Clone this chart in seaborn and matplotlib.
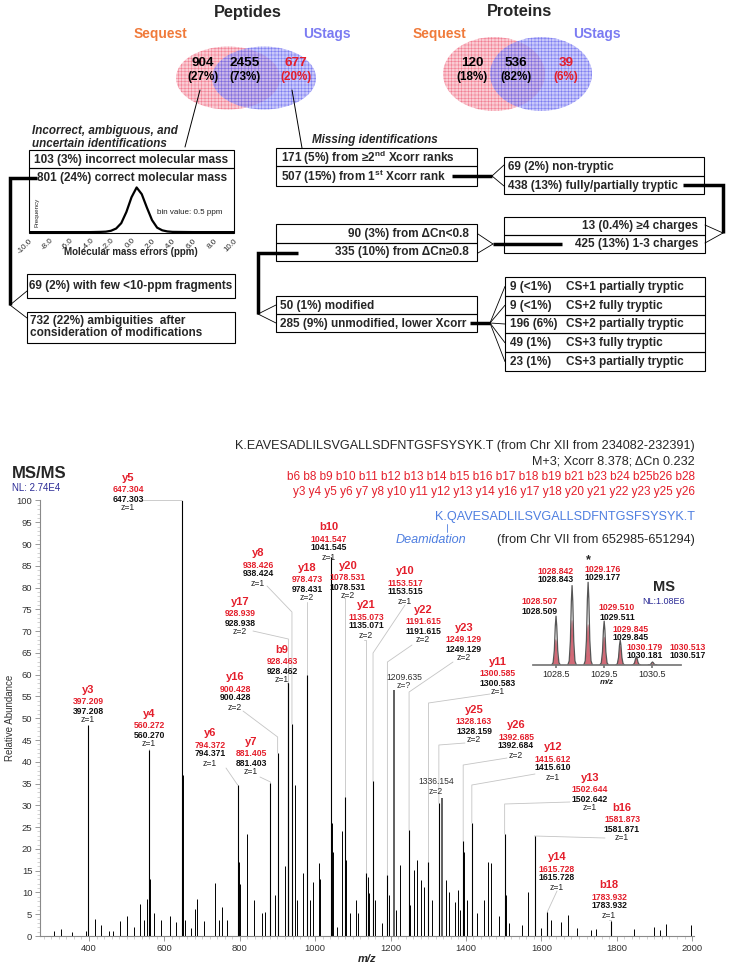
import matplotlib.pyplot as plt
import seaborn as sns
from matplotlib.patches import Ellipse, Rectangle
from matplotlib.ticker import MultipleLocator

sns.set_theme(style='white')
plt.rcParams['font.family'] = ['Liberation Sans', 'DejaVu Sans']
plt.rcParams['mathtext.fontset'] = 'custom'
plt.rcParams['mathtext.rm'] = 'Liberation Sans'
plt.rcParams['mathtext.bf'] = 'Liberation Sans:bold'
plt.rcParams['hatch.linewidth'] = 0.4

# ---------------- data ----------------
venn_titles = ['Peptides', 'Proteins']
only_sequest = ['904', '120']
both = ['2455', '536']
only_ustags = ['677', '39']
pct_sequest = ['(27%)', '(18%)']
pct_both = ['(73%)', '(82%)']
pct_ustags = ['(20%)', '(6%)']

hist_ppm = [-10, -8, -6, -4, -3, -2.5, -2, -1.5, -1, -0.5, 0, 0.5, 1, 1.5, 2, 2.5, 3, 3.5, 4, 6, 8, 10]
hist_freq = [0, 0, 0, 0, 0.005, 0.01, 0.03, 0.08, 0.2, 0.45, 0.78, 1.0, 0.85, 0.55, 0.27, 0.1, 0.04, 0.015, 0.005, 0, 0, 0]
hist_ticks = [-10, -8, -6, -4, -2, 0, 2, 4, 6, 8, 10]

cs_counts = ['9 (<1%)', '9 (<1%)', '196 (6%)', '49 (1%)', '23 (1%)']
cs_labels = ['CS+1 partially tryptic', 'CS+2 fully tryptic', 'CS+2 partially tryptic',
             'CS+3 fully tryptic', 'CS+3 partially tryptic']

ion_names = ['y3', 'y4', 'y5', 'y6', 'y7', 'y16', 'b9', 'y17', 'y8', 'y18', 'b10', 'y20',
             'y21', 'y10', 'y22', 'y23', 'y11', 'y25', 'y26', 'y12', 'y13', 'b16', 'y14', 'b18']
ion_theo = [397.209, 560.272, 647.304, 794.372, 881.405, 900.428, 928.463, 928.939, 938.426,
            978.473, 1041.547, 1078.531, 1135.073, 1153.517, 1191.615, 1249.129, 1300.585,
            1328.163, 1392.685, 1415.612, 1502.644, 1581.873, 1615.728, 1783.932]
ion_obs = [397.208, 560.270, 647.303, 794.371, 881.403, 900.428, 928.462, 928.938, 938.424,
           978.431, 1041.545, 1078.531, 1135.071, 1153.515, 1191.615, 1249.129, 1300.583,
           1328.159, 1392.684, 1415.610, 1502.642, 1581.871, 1615.728, 1783.932]
ion_charge = [1, 1, 1, 1, 1, 2, 1, 2, 1, 2, 1, 2, 2, 1, 2, 2, 1, 2, 2, 1, 1, 1, 1, 1]
ion_int = [48.5, 42.8, 100, 34.7, 35.2, 42.0, 58, 58, 48.7, 60, 87, 32, 14.4, 35.5, 14,
           24.3, 16.9, 30.5, 21.7, 26, 23.4, 23, 5.5, 3.5]

extra_mz = [1209.635, 1336.154]
extra_charge = ['?', '2']
extra_int = [56.5, 31.6]

other_mz = [306, 325, 355, 392, 415, 433, 452, 464, 482, 501, 519, 534, 545, 554, 561.3, 572,
            591, 614, 630, 648.3, 655, 670, 680, 686, 704, 735, 745, 754, 766, 795.4, 797, 800,
            818, 837, 858, 867, 893, 902, 920, 939.4, 947, 952, 969, 979, 986, 994, 1010, 1014,
            1044, 1046, 1058, 1072, 1082, 1092, 1107, 1113, 1139, 1144, 1160, 1177, 1197, 1214,
            1226, 1251, 1261, 1271, 1282, 1289, 1311, 1347, 1356, 1372, 1378, 1384, 1393.7,
            1403, 1417, 1430, 1448, 1459, 1467, 1488, 1505, 1515, 1549, 1564, 1583, 1598, 1626,
            1651, 1670, 1694, 1731, 1745, 1846, 1900, 1916, 1931, 1996]
other_int = [1.2, 1.5, 1.0, 1.1, 3.8, 2.5, 1.1, 1.1, 3.5, 4.6, 2.0, 7.4, 3.7, 8.5, 13, 5.2,
             3.7, 4.6, 3.3, 37, 3.7, 1.8, 6.1, 8.5, 3.5, 12.1, 3.7, 6.7, 3.7, 19.8, 17, 12,
             23.4, 8.3, 5.2, 5.6, 9.4, 9.4, 16, 25.5, 34.7, 8.3, 14.4, 12.1, 8.3, 12.5, 16.7, 13.2,
             26, 19.4, 2.1, 24.1, 17.5, 5.2, 8.3, 5.2, 13.6, 9.8, 8.3, 2.9, 9.4, 6,
             16.3, 7.1, 15.2, 17.5, 12.9, 11.3, 8.3, 12.9, 10.2, 7.9, 10.6, 6, 19.4,
             8.3, 19.8, 5.2, 8.3, 17.1, 16.7, 4.6, 9.4, 2.9, 2.5, 10.2, 4.8, 1.8, 3.7,
             3.3, 4.8, 1.8, 1.4, 1.5, 1.5, 2.1, 1.4, 2.7, 2.5]

iso_obs_mz = [1028.509, 1028.843, 1029.177, 1029.511, 1029.845, 1030.181, 1030.517]
iso_obs_int = [59, 96, 100, 53, 30, 10, 3.6]
iso_theo_mz = [1028.507, 1028.842, 1029.176, 1029.510, 1029.845, 1030.179, 1030.513]
iso_theo_int = [31, 54, 49, 34, 23, 8, 2]

# ---------------- layout helpers (pixels) ----------------
W, H = 731, 966
RED = '#e41e2b'
NAVY = '#2b2b96'
BLUE = '#4f7fe0'


def frac(x0, y0, x1, y1):
    return [x0 / W, 1 - y1 / H, (x1 - x0) / W, (y1 - y0) / H]


fig = plt.figure(figsize=(W / 100, H / 100), dpi=100)
bg = fig.add_axes([0, 0, 1, 1])
bg.set_xlim(0, W)
bg.set_ylim(H, 0)
bg.axis('off')

# ---------------- Venn diagrams ----------------
venn_geo = [dict(cx=248, lx=228, rx=264, cy=78, w=104, h=63, tx=(203, 245, 296), sq=160, us=327),
            dict(cx=520, lx=494, rx=541, cy=74, w=102, h=74, tx=(472, 516, 566), sq=439, us=597)]
for i, g in enumerate(venn_geo):
    bg.add_patch(Ellipse((g['lx'], g['cy']), g['w'], g['h'], facecolor=(0.97, 0.68, 0.72),
                         edgecolor=(0.93, 0.3, 0.42), hatch='+++++', lw=0, alpha=0.62))
    bg.add_patch(Ellipse((g['rx'], g['cy']), g['w'], g['h'], facecolor=(0.66, 0.66, 0.97),
                         edgecolor=(0.3, 0.3, 0.93), hatch='+++++', lw=0, alpha=0.62))
    bg.text(g['cx'], 12, venn_titles[i], fontsize=11.8, fontweight='bold', ha='center', va='center')
    bg.text(g['sq'], 34, 'Sequest', fontsize=9.9, fontweight='bold', color='#f07a3a', ha='center', va='center')
    bg.text(g['us'], 34, 'UStags', fontsize=9.9, fontweight='bold', color='#7b7bf2', ha='center', va='center')
    for x, num, pct, col in zip(g['tx'], [only_sequest[i], both[i], only_ustags[i]],
                                [pct_sequest[i], pct_both[i], pct_ustags[i]], ['black', 'black', RED]):
        bg.text(x, 63, num, fontsize=9.7, fontweight='bold', color=col, ha='center', va='center')
        bg.text(x, 77, pct, fontsize=8.4, fontweight='bold', color=col, ha='center', va='center')

bg.plot([200, 185], [90, 147], color='black', lw=0.7)
bg.plot([292, 302], [90, 148], color='black', lw=0.7)

# ---------------- flowchart ----------------
FS = 8.5


def row(x0, y0, x1, y1, text, tx, ha='left'):
    bg.add_patch(Rectangle((x0, y0), x1 - x0, y1 - y0, fill=False, ec='black', lw=0.8))
    if text:
        bg.text(tx, (y0 + y1) / 2 + 0.5, text, fontsize=FS, fontweight='bold', ha=ha, va='center')


def thick(xs, ys):
    bg.plot(xs, ys, color='black', lw=2.5, solid_capstyle='butt', solid_joinstyle='miter')


def fan(x, y, x2, ys):
    for yy in ys:
        bg.plot([x, x2], [y, yy], color='black', lw=0.6)


# left branch
bg.text(32, 131, 'Incorrect, ambiguous, and', fontsize=8.4, fontweight='bold', style='italic', va='center')
bg.text(32, 144, 'uncertain identifications', fontsize=8.4, fontweight='bold', style='italic', va='center')
row(29, 150, 234, 168, '103 (3%) incorrect molecular mass', 34)
row(29, 168, 234, 233, None, 0)
bg.text(37, 178, '801 (24%) correct molecular mass', fontsize=FS, fontweight='bold', va='center')
thick([37, 10, 10], [178, 178, 305])
fan(10, 305, 27, [291, 318])
row(27, 274, 235, 298, '69 (2%) with few <10-ppm fragments', 29)
row(27, 312, 235, 343, None, 0)
bg.text(30, 321, '732 (22%) ambiguities  after', fontsize=FS, fontweight='bold', va='center')
bg.text(30, 333, 'consideration of modifications', fontsize=FS, fontweight='bold', va='center')
bg.text(131, 252, 'Molecular mass errors (ppm)', fontsize=7, fontweight='bold', ha='center', va='center')
bg.text(190, 212, 'bin value: 0.5 ppm', fontsize=5.8, ha='center', va='center', color='#222')

# right branch
bg.text(312, 140, 'Missing identifications', fontsize=8.4, fontweight='bold', style='italic', va='center')
row(276, 148, 477, 166, r'171 (5%) from ≥2$^{\mathbf{nd}}$ Xcorr ranks', 281)
row(276, 166, 477, 186, r'507 (15%) from 1$^{\mathbf{st}}$ Xcorr rank', 281)
thick([452, 492], [176, 176])
fan(492, 176, 504, [165, 186])
row(504, 157, 704, 176, '69 (2%) non-tryptic', 508)
row(504, 176, 704, 194, '438 (13%) fully/partially tryptic', 508)
thick([683, 723, 723], [185, 185, 233])
fan(723, 233, 705, [225, 243])
row(504, 217, 705, 235, '13 (0.4%) ≥4 charges', 698, 'right')
row(504, 235, 705, 253, '425 (13%) 1-3 charges', 698, 'right')
thick([562, 493], [244, 244])
fan(493, 244, 478, [234, 253])
row(276, 224, 477, 243, '90 (3%) from ΔCn<0.8', 469, 'right')
row(276, 243, 477, 261, '335 (10%) from ΔCn≥0.8', 469, 'right')
thick([298, 258, 258], [253, 253, 314])
fan(258, 314, 276, [305, 323])
row(276, 296, 477, 314, '50 (1%) modified', 280)
row(276, 314, 477, 332, '285 (9%) unmodified, lower Xcorr', 280)
thick([470, 490], [323, 323])
rh = (371 - 277) / len(cs_counts)
fan(490, 323, 505, [277 + rh * (k + 0.5) for k in range(len(cs_counts))])
for k, (c, l) in enumerate(zip(cs_counts, cs_labels)):
    y0 = 277 + rh * k
    row(505, y0, 705, y0 + rh, c, 510)
    bg.text(566, y0 + rh / 2 + 0.5, l, fontsize=FS, fontweight='bold', va='center')

# histogram of mass errors
hx = fig.add_axes(frac(29, 183, 234, 233))
hx.patch.set_alpha(0)
sns.lineplot(x=hist_ppm, y=hist_freq, ax=hx, color='black', lw=1.6)
hx.set_xlim(-10, 10)
hx.set_ylim(-0.02, 1.1)
hx.set_xticks(hist_ticks)
hx.set_xticklabels([f'{t:.1f}' for t in hist_ticks], rotation=45, ha='right',
                   rotation_mode='anchor', fontsize=5.8)
hx.set_yticks([])
hx.tick_params(axis='x', length=0, pad=3)
for s in hx.spines.values():
    s.set_visible(False)
hx.set_xlabel('')
hx.set_ylabel('')
hx.text(-9.2, 0.45, 'Frequency', rotation=90, fontsize=4.5, va='center', ha='center')

# ---------------- MS/MS spectrum ----------------
SP_L, SP_R, SP_T, SP_B = 40, 694, 500.5, 936
XL, YL = (270, 2005), (0, 100)


def to_mz(px):
    return XL[0] + (px - SP_L) / (SP_R - SP_L) * (XL[1] - XL[0])


def to_int(py):
    return YL[0] + (SP_B - py) / (SP_B - SP_T) * (YL[1] - YL[0])


sp = fig.add_axes(frac(SP_L, SP_T, SP_R, SP_B))
sp.patch.set_alpha(0)
sp.set_xlim(*XL)
sp.set_ylim(*YL)
for side in ['top', 'right']:
    sp.spines[side].set_visible(False)
for side in ['left', 'bottom']:
    sp.spines[side].set_color('#8a8a8a')
    sp.spines[side].set_linewidth(0.8)
sp.set_xticks(range(400, 2001, 200))
sp.xaxis.set_minor_locator(MultipleLocator(20))
sp.set_yticks(range(0, 101, 5))
sp.yaxis.set_minor_locator(MultipleLocator(1))
sp.tick_params(which='major', direction='out', length=3.5, width=0.6, color='#8a8a8a',
               labelsize=6.8, labelcolor='#333333', left=True, bottom=True, pad=2)
sp.tick_params(which='minor', direction='out', length=2, width=0.4, color='#b0b0b0', left=True, bottom=True)
sp.set_ylabel('Relative Abundance', fontsize=7, color='#333333', labelpad=1)
sp.set_xlabel('m/z', fontsize=8, fontweight='bold', style='italic', labelpad=1)
sp.grid(False)

# layout of labels: name centre (x, y), leader start (x, y), bend y  -- in pixels
ion_layout = [(88, 690, 88, 725, 725), (149, 714, 149, 749, 749), (128, 478, 140, 500, 500),
              (210, 733, 226, 768, 785), (251, 742, 260, 777, 782), (235, 677, 243, 711, 737),
              (282, 650, 287, 683, 683), (240, 602, 253, 631, 639), (258, 553, 267, 586, 612),
              (307, 568, 307, 602, 602), (329, 527, 329, 557, 557), (348, 566, 344, 598, 598),
              (366, 605, 364, 640, 640), (405, 571, 405, 605, 653), (423, 610, 412, 645, 662),
              (464, 628, 453, 662, 692), (498, 662, 490, 694, 703), (474, 710, 465, 743, 745),
              (516, 725, 507, 758, 765), (553, 747, 535, 774, 785), (590, 778, 570, 802, 804),
              (622, 808, 605, 838, 836), (557, 857, 557, 891, 912), (609, 885, 609, 920, 920)]

for i, name in enumerate(ion_names):
    nx, ny, sx, sy, by = ion_layout[i]
    X = to_mz(nx)
    sp.text(X, to_int(ny), name, color=RED, fontsize=8, fontweight='bold', ha='center', va='center')
    sp.text(X, to_int(ny + 12), f'{ion_theo[i]:.3f}', color=RED, fontsize=6.2, fontweight='bold',
            ha='center', va='center')
    sp.text(X, to_int(ny + 21), f'{ion_obs[i]:.3f}', color='#111111', fontsize=6.2, fontweight='bold',
            ha='center', va='center')
    sp.text(X, to_int(ny + 30), f'z={ion_charge[i]}', color='#222222', fontsize=6.2, ha='center', va='center')
    sp.plot([to_mz(sx), ion_obs[i], ion_obs[i]], [to_int(sy), to_int(by), ion_int[i]],
            color='#c4c4c4', lw=0.6, clip_on=False)

extra_layout = [(404, 677), (436, 782)]
for (lx, ly), mz, z, it in zip(extra_layout, extra_mz, extra_charge, extra_int):
    sp.text(to_mz(lx), to_int(ly), f'{mz:.3f}', fontsize=6.2, color='#333333', ha='center', va='center')
    sp.text(to_mz(lx), to_int(ly + 9), f'z={z}', fontsize=6.2, color='#333333', ha='center', va='center')

sp.vlines(other_mz, 0, other_int, color='black', lw=0.7)
sp.vlines(ion_obs, 0, ion_int, color='black', lw=0.8)
sp.vlines(extra_mz, 0, extra_int, color='#444444', lw=1.2)

bg.text(12, 473, 'MS/MS', fontsize=12, fontweight='bold', va='center')
bg.text(12, 488, 'NL: 2.74E4', fontsize=7, color=NAVY, va='center')

bg.text(695, 446, 'K.EAVESADLILSVGALLSDFNTGSFSYSYK.T (from Chr XII from 234082-232391)',
        fontsize=9.1, ha='right', va='center')
bg.text(695, 462, 'M+3; Xcorr 8.378; ΔCn 0.232', fontsize=9.1, ha='right', va='center')
bg.text(695, 477, 'b6 b8 b9 b10 b11 b12 b13 b14 b15 b16 b17 b18 b19 b21 b23 b24 b25b26 b28',
        fontsize=8.5, color=RED, ha='right', va='center')
bg.text(695, 492, 'y3 y4 y5 y6 y7 y8 y10 y11 y12 y13 y14 y16 y17 y18 y20 y21 y22 y23 y25 y26',
        fontsize=8.5, color=RED, ha='right', va='center')
bg.text(695, 517, 'K.QAVESADLILSVGALLSDFNTGSFSYSYK.T', fontsize=9.1, color=BLUE, ha='right', va='center')
bg.plot([447, 447], [524, 532], color=BLUE, lw=0.6)
bg.text(431, 540, 'Deamidation', fontsize=9.1, color=BLUE, style='italic', ha='center', va='center')
bg.text(695, 540, '(from Chr VII from 652985-651294)', fontsize=9.1, ha='right', va='center')

# ---------------- MS inset ----------------
ins = fig.add_axes(frac(533, 574, 681, 665))
ins.patch.set_alpha(0)
ins.set_xlim(1028.03, 1031.11)
ins.set_ylim(0, 110)
shape_dx = [-0.09, -0.06, -0.035, -0.015, 0, 0.015, 0.035, 0.06, 0.09]
shape_h = [0, 0.05, 0.3, 0.8, 1, 0.8, 0.3, 0.05, 0]
for mz, it in zip(iso_obs_mz, iso_obs_int):
    ins.plot([mz + d for d in shape_dx], [it * s for s in shape_h], color='#555555', lw=0.9)
for mz, it in zip(iso_theo_mz, iso_theo_int):
    ins.fill([mz + d for d in shape_dx], [it * s for s in shape_h], color='#c9505f', alpha=0.85, lw=0.4)
for side in ['top', 'right', 'left']:
    ins.spines[side].set_visible(False)
ins.spines['bottom'].set_color('#777777')
ins.set_yticks([])
ins.set_xticks([1028.5, 1029.5, 1030.5])
ins.set_xticklabels(['1028.5', '1029.5', '1030.5'])
ins.tick_params(axis='x', direction='out', length=2, labelsize=6.5, pad=1.5, color='#777777', bottom=True)
ins.set_xlabel('m/z', fontsize=6, fontweight='bold', style='italic', labelpad=0)
ins.grid(False)

iso_label_px = [(540, 602), (556, 571), (603, 569), (617, 608), (631, 629), (645, 647), (688, 647)]
for (lx, ly), t, o in zip(iso_label_px, iso_theo_mz, iso_obs_mz):
    bg.text(lx, ly, f'{t:.3f}', fontsize=6.2, fontweight='bold', color=RED, ha='center', va='center')
    bg.text(lx, ly + 9, f'{o:.3f}', fontsize=6.2, fontweight='bold', color='#111111', ha='center', va='center')
bg.text(588, 560, '*', fontsize=9, fontweight='bold', ha='center', va='center')
bg.text(664, 587, 'MS', fontsize=10.5, fontweight='bold', ha='center', va='center')
bg.text(664, 601, 'NL:1.08E6', fontsize=6.5, color=NAVY, ha='center', va='center')

fig.savefig('out.png', dpi=100)
